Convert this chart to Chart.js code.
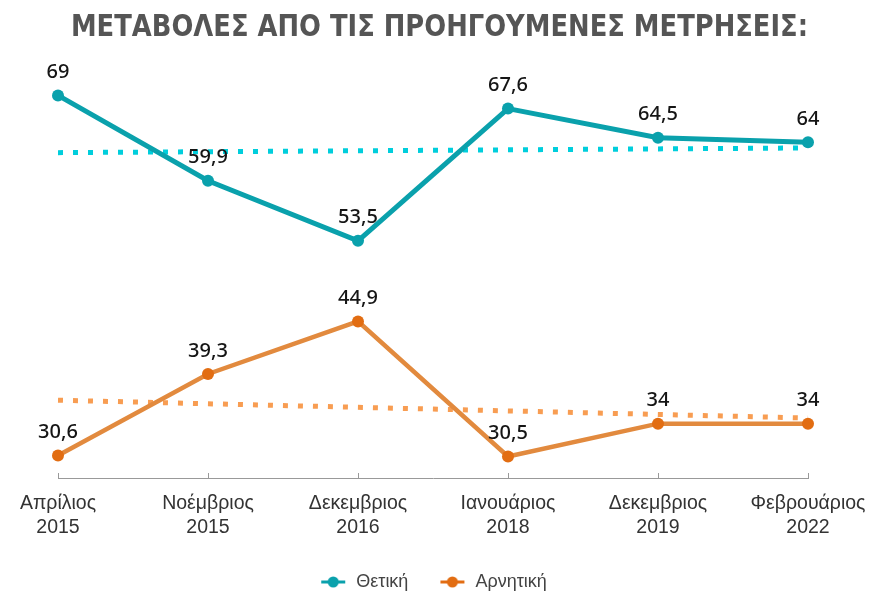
<!DOCTYPE html>
<html>
<head>
<meta charset="utf-8">
<script src="https://cdn.jsdelivr.net/npm/chart.js@4.4.1/dist/chart.umd.min.js"></script>
<style>
  html, body { margin: 0; background: #fff; }
</style>
</head>
<body>
<canvas id="chart" width="874" height="595"></canvas>
<script>
// values
const months = [
  ['Απρίλιος', '2015'],
  ['Νοέμβριος', '2015'],
  ['Δεκεμβριος', '2016'],
  ['Ιανουάριος', '2018'],
  ['Δεκεμβριος', '2019'],
  ['Φεβρουάριος', '2022']
];
const positive = [69, 59.9, 53.5, 67.6, 64.5, 64];
const negative = [30.6, 39.3, 44.9, 30.5, 34, 34];
// dotted trend lines, only end points
const positiveTrend = [62.9, null, null, null, null, 63.4];
const negativeTrend = [36.5, null, null, null, null, 34.6];

const teal = '#0aa1ac';
const tealDot = '#00cedc';
const orange = '#e28a3e';
const orangePoint = '#e26d12';
const orangeDot = '#f89d52';

// legend icon: short line with a dot in the middle
function legendIcon(color) {
  const c = document.createElement('canvas');
  c.width = 28; c.height = 12;
  const g = c.getContext('2d');
  g.strokeStyle = color;
  g.lineWidth = 3;
  g.beginPath(); g.moveTo(2, 6); g.lineTo(26, 6); g.stroke();
  g.fillStyle = color;
  g.beginPath(); g.arc(14, 6, 5.5, 0, Math.PI * 2); g.fill();
  return c;
}
const icons = [legendIcon(teal), legendIcon(orangePoint)];

// value labels above the points
const pointLabels = {
  id: 'pointLabels',
  afterDatasetsDraw(chart) {
    const ctx = chart.ctx;
    ctx.save();
    ctx.font = '500 20px "Noto Sans"';
    ctx.fillStyle = '#151515';
    ctx.textAlign = 'center';
    ctx.textBaseline = 'middle';
    [0, 1].forEach(i => {
      chart.getDatasetMeta(i).data.forEach((pt, j) => {
        const v = chart.data.datasets[i].data[j];
        ctx.fillText(String(v).replace('.', ','), pt.x, pt.y - 23);
      });
    });
    ctx.restore();
  }
};

new Chart(document.getElementById('chart'), {
  type: 'line',
  data: {
    labels: months,
    datasets: [
      {
        label: 'Θετική',
        data: positive,
        borderColor: teal,
        backgroundColor: teal,
        borderWidth: 5,
        pointRadius: 6,
        pointHoverRadius: 6,
        pointBorderWidth: 0,
        tension: 0
      },
      {
        label: 'Αρνητική',
        data: negative,
        borderColor: orange,
        backgroundColor: orangePoint,
        borderWidth: 4.5,
        pointRadius: 6,
        pointHoverRadius: 6,
        pointBorderWidth: 0,
        tension: 0
      },
      {
        label: 'trend1',
        data: positiveTrend,
        borderColor: tealDot,
        borderWidth: 5,
        borderDash: [5, 10],
        pointRadius: 0,
        spanGaps: true
      },
      {
        label: 'trend2',
        data: negativeTrend,
        borderColor: orangeDot,
        borderWidth: 5,
        borderDash: [5, 10],
        pointRadius: 0,
        spanGaps: true
      }
    ]
  },
  options: {
    responsive: false,
    animation: false,
    layout: { padding: { left: 58, right: 66, bottom: -6 } },
    scales: {
      x: {
        offset: false,
        grid: { drawOnChartArea: false, tickLength: -5, color: '#999' },
        border: { color: '#999' },
        ticks: {
          padding: 19,
          color: '#333',
          font: { family: '"Liberation Sans"', size: 19.5, lineHeight: 1.23 }
        },
        afterFit(scale) {
          scale.height -= 16;
          // keep the plot edges where the layout padding puts them
          scale.paddingLeft = 0;
          scale.paddingRight = 0;
        }
      },
      y: { display: false, min: 28.2, max: 72.95 }
    },
    plugins: {
      title: {
        display: true,
        text: '\u2002ΜΕΤΑΒΟΛΕΣ ΑΠΟ ΤΙΣ ΠΡΟΗΓΟΥΜΕΝΕΣ ΜΕΤΡΗΣΕΙΣ:',
        color: '#555',
        font: { family: '"DejaVu Sans Condensed"', weight: 'bold', size: 29.5 },
        padding: { top: 11, bottom: 12 }
      },
      legend: {
        position: 'bottom',
        labels: {
          usePointStyle: true,
          pointStyleWidth: 28,
          padding: 30,
          color: '#444',
          font: { family: '"Liberation Sans"', size: 18 },
          filter: item => item.datasetIndex < 2,
          generateLabels(chart) {
            const items = Chart.defaults.plugins.legend.labels.generateLabels(chart);
            items.forEach((it, i) => { if (i < 2) it.pointStyle = icons[i]; });
            return items;
          }
        }
      },
      tooltip: { enabled: false }
    }
  },
  plugins: [pointLabels]
});
</script>
</body>
</html>
